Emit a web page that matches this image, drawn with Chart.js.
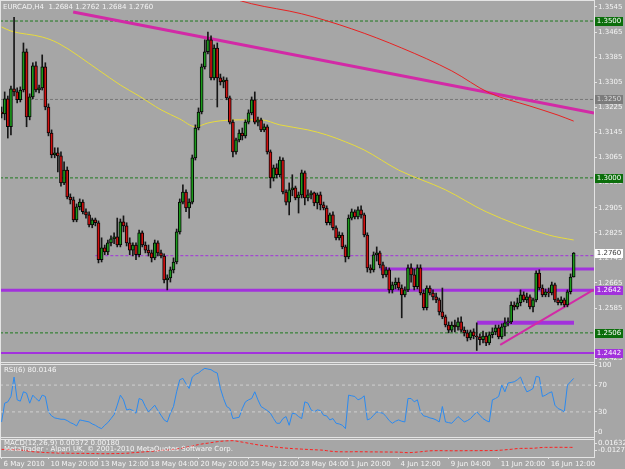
<!DOCTYPE html>
<html><head><meta charset="utf-8">
<style>html,body{margin:0;padding:0;background:#a6a6a6;overflow:hidden}canvas{display:block}</style>
<script src="https://cdn.jsdelivr.net/npm/chart.js@4.4.1/dist/chart.umd.min.js"></script>
</head><body>
<canvas id="c" width="625" height="469"></canvas>
<script>
// ---------------- DATA ----------------
const symbol = 'EURCAD,H4';
const openP = [1.3210,1.3204,1.3252,1.3163,1.3284,1.3274,1.3249,1.3280,1.3402,1.3194,1.3258,1.3357,1.3280,1.3287,1.3354,1.3226,1.3143,1.3073,1.3080,1.3070,
1.2984,1.3025,1.2939,1.2930,1.2866,1.2908,1.2923,1.2892,1.2882,1.2850,1.2866,1.2857,1.2739,1.2777,1.2764,1.2793,1.2806,1.2812,1.2786,1.2860,
1.2847,1.2793,1.2770,1.2786,1.2755,1.2825,1.2786,1.2770,1.2761,1.2745,1.2793,1.2761,1.2751,1.2675,1.2681,1.2707,1.2732,1.2828,1.2923,1.2955,
1.2904,1.2923,1.3064,1.3159,1.3210,1.3354,1.3402,1.3440,1.3319,1.3414,1.3319,1.3306,1.3312,1.3255,1.3178,1.3083,1.3121,1.3143,1.3134,1.3178,
1.3207,1.3249,1.3178,1.3185,1.3153,1.3163,1.3083,1.3000,1.3032,1.3010,1.3057,1.2955,1.2923,1.2962,1.2968,1.2936,1.2946,1.3016,1.2936,1.2946,
1.2952,1.2920,1.2946,1.2914,1.2904,1.2857,1.2882,1.2841,1.2809,1.2818,1.2780,1.2748,1.2872,1.2892,1.2876,1.2898,1.2882,1.2818,1.2713,1.2707,
1.2755,1.2761,1.2723,1.2691,1.2707,1.2643,1.2659,1.2668,1.2649,1.2627,1.2643,1.2713,1.2691,1.2653,1.2713,1.2633,1.2586,1.2649,1.2633,1.2621,
1.2611,1.2573,1.2557,1.2531,1.2515,1.2531,1.2525,1.2541,1.2515,1.2506,1.2490,1.2509,1.2496,1.2493,1.2484,1.2496,1.2474,1.2500,1.2509,1.2522,
1.2493,1.2525,1.2538,1.2541,1.2595,1.2589,1.2602,1.2627,1.2611,1.2621,1.2589,1.2611,1.2697,1.2649,1.2627,1.2637,1.2633,1.2659,1.2611,1.2602,
1.2611,1.2595,1.2637,1.2684];
const highP = [1.3226,1.3274,1.3261,1.3293,1.3512,1.3287,1.3290,1.3430,1.3411,1.3268,1.3367,1.3370,1.3296,1.3392,1.3367,1.3236,1.3153,1.3096,1.3096,1.3083,
1.3051,1.3035,1.2949,1.2939,1.2917,1.2933,1.2930,1.2901,1.2892,1.2872,1.2872,1.2863,1.2809,1.2786,1.2802,1.2815,1.2825,1.2872,1.2869,1.2879,
1.2857,1.2809,1.2793,1.2793,1.2834,1.2831,1.2796,1.2786,1.2770,1.2802,1.2799,1.2770,1.2758,1.2691,1.2716,1.2745,1.2837,1.2933,1.2978,1.2962,
1.2933,1.3073,1.3169,1.3223,1.3363,1.3440,1.3465,1.3453,1.3424,1.3430,1.3331,1.3322,1.3319,1.3261,1.3185,1.3127,1.3153,1.3159,1.3185,1.3217,
1.3258,1.3274,1.3194,1.3191,1.3172,1.3169,1.3089,1.3041,1.3045,1.3067,1.3064,1.2962,1.2984,1.3010,1.2974,1.2955,1.3025,1.3022,1.2962,1.2959,
1.2955,1.2952,1.2955,1.2923,1.2911,1.2888,1.2892,1.2847,1.2828,1.2825,1.2786,1.2882,1.2901,1.2898,1.2908,1.2911,1.2888,1.2825,1.2723,1.2764,
1.2780,1.2767,1.2732,1.2716,1.2713,1.2668,1.2681,1.2681,1.2659,1.2653,1.2723,1.2726,1.2710,1.2723,1.2723,1.2643,1.2656,1.2656,1.2643,1.2633,
1.2617,1.2649,1.2563,1.2541,1.2541,1.2547,1.2554,1.2557,1.2525,1.2515,1.2515,1.2519,1.2538,1.2503,1.2512,1.2506,1.2509,1.2522,1.2531,1.2531,
1.2535,1.2554,1.2554,1.2605,1.2605,1.2617,1.2643,1.2637,1.2633,1.2627,1.2617,1.2704,1.2707,1.2659,1.2646,1.2649,1.2668,1.2665,1.2617,1.2621,
1.2617,1.2643,1.2694,1.2762];
const lowP = [1.3191,1.3185,1.3127,1.3137,1.3261,1.3239,1.3242,1.3274,1.3163,1.3185,1.3252,1.3274,1.3271,1.3280,1.3217,1.3134,1.3064,1.3064,1.3019,1.2974,
1.2978,1.2933,1.2917,1.2860,1.2860,1.2898,1.2885,1.2872,1.2844,1.2841,1.2847,1.2729,1.2732,1.2755,1.2755,1.2783,1.2790,1.2780,1.2780,1.2828,
1.2783,1.2755,1.2751,1.2739,1.2748,1.2780,1.2761,1.2751,1.2732,1.2739,1.2751,1.2745,1.2665,1.2643,1.2668,1.2697,1.2726,1.2821,1.2917,1.2892,
1.2872,1.2917,1.3057,1.3153,1.3204,1.3347,1.3395,1.3312,1.3312,1.3226,1.3296,1.3287,1.3249,1.3172,1.3067,1.3076,1.3115,1.3121,1.3127,1.3172,
1.3201,1.3172,1.3166,1.3147,1.3147,1.3076,1.2968,1.2990,1.3000,1.3003,1.2949,1.2914,1.2882,1.2943,1.2930,1.2888,1.2936,1.2914,1.2927,1.2933,
1.2911,1.2901,1.2898,1.2898,1.2850,1.2850,1.2834,1.2802,1.2802,1.2774,1.2732,1.2742,1.2866,1.2869,1.2869,1.2872,1.2812,1.2700,1.2697,1.2700,
1.2735,1.2713,1.2681,1.2684,1.2633,1.2633,1.2646,1.2643,1.2554,1.2621,1.2637,1.2668,1.2643,1.2646,1.2627,1.2579,1.2579,1.2627,1.2611,1.2602,
1.2563,1.2551,1.2525,1.2506,1.2509,1.2509,1.2515,1.2509,1.2496,1.2480,1.2484,1.2487,1.2450,1.2468,1.2474,1.2465,1.2468,1.2490,1.2500,1.2487,
1.2487,1.2496,1.2528,1.2535,1.2579,1.2582,1.2592,1.2605,1.2602,1.2582,1.2573,1.2605,1.2643,1.2621,1.2621,1.2621,1.2627,1.2605,1.2595,1.2595,
1.2589,1.2589,1.2630,1.2684];
const closeP = [1.3204,1.3252,1.3163,1.3284,1.3274,1.3249,1.3280,1.3402,1.3194,1.3258,1.3357,1.3280,1.3287,1.3354,1.3226,1.3143,1.3073,1.3080,1.3070,1.2984,
1.3025,1.2939,1.2930,1.2866,1.2908,1.2923,1.2892,1.2882,1.2850,1.2866,1.2857,1.2739,1.2777,1.2764,1.2793,1.2806,1.2812,1.2786,1.2860,1.2847,
1.2793,1.2770,1.2786,1.2755,1.2825,1.2786,1.2770,1.2761,1.2745,1.2793,1.2761,1.2751,1.2675,1.2681,1.2707,1.2732,1.2828,1.2923,1.2955,1.2904,
1.2923,1.3064,1.3159,1.3210,1.3354,1.3402,1.3440,1.3319,1.3414,1.3319,1.3306,1.3312,1.3255,1.3178,1.3083,1.3121,1.3143,1.3134,1.3178,1.3207,
1.3249,1.3178,1.3185,1.3153,1.3163,1.3083,1.3000,1.3032,1.3010,1.3057,1.2955,1.2923,1.2962,1.2968,1.2936,1.2946,1.3016,1.2936,1.2946,1.2952,
1.2920,1.2946,1.2914,1.2904,1.2857,1.2882,1.2841,1.2809,1.2818,1.2780,1.2748,1.2872,1.2892,1.2876,1.2898,1.2882,1.2818,1.2713,1.2707,1.2755,
1.2761,1.2723,1.2691,1.2707,1.2643,1.2659,1.2668,1.2649,1.2627,1.2643,1.2713,1.2691,1.2653,1.2713,1.2633,1.2586,1.2649,1.2633,1.2621,1.2611,
1.2573,1.2557,1.2531,1.2515,1.2531,1.2525,1.2541,1.2515,1.2506,1.2490,1.2509,1.2496,1.2493,1.2484,1.2496,1.2474,1.2500,1.2509,1.2522,1.2493,
1.2525,1.2538,1.2541,1.2595,1.2589,1.2602,1.2627,1.2611,1.2621,1.2589,1.2611,1.2697,1.2649,1.2627,1.2637,1.2633,1.2659,1.2611,1.2602,1.2611,
1.2595,1.2637,1.2684,1.2760];

// moving averages (bar index, price)
const maYellowBars = [0,3,13,18,31,38,44,51,57,62,66,70,76,83,89,98,104,110,116,127,142,155,175,183];
const maYellowVals = [1.3481,1.3468,1.3449,1.3430,1.3344,1.3296,1.3261,1.3217,1.3188,1.3163,1.3175,1.3182,1.3185,1.3185,1.3169,1.3153,1.3137,1.3115,1.3089,1.3025,1.2962,1.2892,1.2818,1.2802];
const maRedBars = [67,80,96,112,128,144,156,169,178,183];
const maRedVals = [1.3593,1.3555,1.3523,1.3475,1.3414,1.3341,1.3271,1.3229,1.3200,1.3181];

// trend lines (bar index, price)
const trendDownBars = [22.9,189.5];
const trendDownVals = [1.3529,1.3207];
const trendUpBars = [159.5,189.3];
const trendUpVals = [1.2468,1.2643];

// horizontal levels
const greenLevels = [1.3500,1.3000,1.2506];
const grayLevels = [1.3250];
const purpleLevels = [1.2710,1.2642,1.2538,1.2442];
const purpleFrom = [121,-0.5,152.1,-0.5];
const purpleTo = [189.5,189.5,183.1,189.5];
const purpleThinLevel = 1.2752;
const purpleThinFrom = 30;
const boxPrices = [1.3500,1.3250,1.3000,1.2760,1.2642,1.2506,1.2442];

// RSI(6)
const rsi6 = [15,43,45,53,82,48,46,60,58,43,55,50,46,55,53,30,24,21,20,19,
19,17,14,12,9,18,17,16,15,12,10,7,5,10,14,20,26,40,55,48,
33,34,32,28,50,48,38,30,35,40,32,25,18,15,28,38,60,78,80,72,
65,82,86,88,92,95,94,93,90,88,65,50,38,35,20,21,22,35,45,48,
50,60,48,38,35,32,28,20,13,13,20,23,10,28,27,23,20,45,43,33,
30,33,32,25,24,18,20,13,12,10,5,55,54,53,48,50,54,18,20,25,
30,29,28,23,17,13,16,18,16,15,50,50,45,48,30,24,23,21,20,18,
15,38,15,14,13,18,23,19,15,17,20,25,30,25,20,17,15,48,50,53,
70,60,73,74,75,78,82,70,60,62,65,83,82,53,55,58,60,40,35,33,
30,70,75,80.0146];
const rsiLevels = [70,30];
const rsiTicks = [100,70,30,0];

// MACD(12,26,9) signal line
const macdSignal = [-0.0006,-0.0008,-0.0010,-0.0012,-0.0014,-0.0016,-0.0018,-0.0025,-0.0032,-0.0040,-0.0049,-0.0053,-0.0057,-0.0061,-0.0064,-0.0067,-0.0069,-0.0071,-0.0073,-0.0074,
-0.0075,-0.0076,-0.0077,-0.0078,-0.0079,-0.0079,-0.0079,-0.0080,-0.0081,-0.0082,-0.0083,-0.0084,-0.0085,-0.0085,-0.0085,-0.0084,-0.0083,-0.0082,-0.0081,-0.0079,
-0.0077,-0.0073,-0.0067,-0.0063,-0.0059,-0.0055,-0.0050,-0.0046,-0.0041,-0.0036,-0.0031,-0.0025,-0.0020,-0.0018,-0.0012,-0.0006,0.0000,0.0008,0.0018,0.0030,
0.0042,0.0055,0.0068,0.0080,0.0090,0.0100,0.0106,0.0115,0.0125,0.0133,0.0140,0.0145,0.0148,0.0150,0.0151,0.0145,0.0135,0.0125,0.0115,0.0105,
0.0095,0.0085,0.0075,0.0067,0.0060,0.0054,0.0047,0.0040,0.0033,0.0027,0.0021,0.0016,0.0012,0.0008,0.0004,0.0001,-0.0002,-0.0005,-0.0008,-0.0011,
-0.0014,-0.0016,-0.0018,-0.0022,-0.0030,-0.0038,-0.0044,-0.0049,-0.0050,-0.0050,-0.0051,-0.0051,-0.0050,-0.0049,-0.0049,-0.0050,-0.0050,-0.0051,-0.0052,-0.0052,
-0.0053,-0.0053,-0.0054,-0.0054,-0.0055,-0.0055,-0.0056,-0.0057,-0.0060,-0.0064,-0.0067,-0.0064,-0.0060,-0.0056,-0.0050,-0.0044,-0.0038,-0.0033,-0.0031,-0.0030,
-0.0030,-0.0030,-0.0031,-0.0031,-0.0032,-0.0032,-0.0032,-0.0031,-0.0031,-0.0030,-0.0030,-0.0030,-0.0030,-0.0029,-0.0029,-0.0029,-0.0028,-0.0028,-0.0027,-0.0024,
-0.0020,-0.0015,-0.0010,-0.0005,0.0002,0.0008,0.0011,0.0012,0.0012,0.0013,0.0013,0.0018,0.0024,0.0028,0.0030,0.0030,0.0030,0.0031,0.0031,0.0031,
0.0030,0.0030,0.0030,0.0030];
const macdTickLabels = ['0.01632','-0.01273'];
const macdTickVals = [0.0109,-0.0018];

// axes
const priceTicks = [1.3545,1.3465,1.3385,1.3305,1.3225,1.3145,1.3065,1.2985,1.2905,1.2825,1.2745,1.2665,1.2585,1.2505,1.2425];
const timeTickBars = [0,15,31,47,63,79,95,111,127,143,159,175];
const timeTickLabels = ['6 May 2010','10 May 20:00','13 May 12:00','18 May 04:00','20 May 20:00','25 May 12:00','28 May 04:00','1 Jun 20:00','4 Jun 12:00','9 Jun 04:00','11 Jun 20:00','16 Jun 12:00'];
const rsiTitle = 'RSI(6) ';
const macdTitle = 'MACD(12,26,9) 0.00372 0.00180';
const copyright = 'MetaTrader - Alpari UK, \u00a9 2001-2010 MetaQuotes Software Corp.';

// ---------------- STYLE ----------------
const BG = '#a6a6a6', AX = '#e4e4e4', TXT = '#f4f4f4';
const FONT = {family: 'DejaVu Sans', size: 7};
const UP = '#1c9a1c', DN = '#d01010';
const PURPLE = '#a232dc', MAGENTA = '#d22aa6';
const boxStyle = {
  1.3500: ['#0b6e0b', '#ffffff'], 1.3250: ['#7c7c7c', '#d8d8d8'], 1.3000: ['#0b6e0b', '#ffffff'],
  1.2760: ['#ffffff', '#404040'], 1.2642: ['#a232dc', '#ffffff'], 1.2506: ['#0b6e0b', '#ffffff'], 1.2442: ['#a232dc', '#ffffff']
};

const N = closeP.length;
const idx = Array.from({length: N}, (_, i) => i);
const hseg = (from, to, v) => [{x: from, y: v}, {x: to, y: v}];
const lineDs = (data, color, width, axis, extra) => Object.assign({
  type: 'line', data, borderColor: color, borderWidth: width, pointRadius: 0, fill: false,
  yAxisID: axis || 'y', tension: 0
}, extra || {});

const datasets = [];
datasets.push({
  type: 'bar', grouped: false, yAxisID: 'y',
  data: idx.map(i => ({x: i, y: [Math.min(openP[i], closeP[i]), Math.max(openP[i], closeP[i])]})),
  backgroundColor: idx.map(i => closeP[i] >= openP[i] ? UP : DN),
  borderColor: '#050505', borderWidth: 1, borderSkipped: false, barThickness: 3, minBarLength: 1
});
datasets.push({
  type: 'bar', grouped: false, yAxisID: 'y',
  data: idx.map(i => ({x: i, y: [lowP[i], highP[i]]})),
  backgroundColor: '#161616', borderWidth: 0, barThickness: 1
});
datasets.push(lineDs(maYellowBars.map((b, k) => ({x: b, y: maYellowVals[k]})), '#e8dc3c', 1, 'y', {cubicInterpolationMode: 'monotone'}));
datasets.push(lineDs(maRedBars.map((b, k) => ({x: b, y: maRedVals[k]})), '#e82222', 1, 'y', {cubicInterpolationMode: 'monotone'}));
datasets.push(lineDs(trendDownBars.map((b, k) => ({x: b, y: trendDownVals[k]})), MAGENTA, 3));
datasets.push(lineDs(trendUpBars.map((b, k) => ({x: b, y: trendUpVals[k]})), MAGENTA, 2));
greenLevels.forEach(v => datasets.push(lineDs(hseg(-0.5, 189.5, v), '#1f7a1f', 1, 'y', {borderDash: [3, 2]})));
grayLevels.forEach(v => datasets.push(lineDs(hseg(-0.5, 189.5, v), '#787878', 1, 'y', {borderDash: [3, 2]})));
const purpleW = [3, 3, 4, 2];
purpleLevels.forEach((v, k) => datasets.push(lineDs(hseg(purpleFrom[k], purpleTo[k], v), PURPLE, purpleW[k])));
datasets.push(lineDs(hseg(purpleThinFrom, 189.5, purpleThinLevel), PURPLE, 1, 'y', {borderDash: [3, 2]}));
rsiLevels.forEach(v => datasets.push(lineDs(hseg(-0.5, 189.5, v), '#cfcfcf', 1, 'yRsi', {borderDash: [3, 3]})));
datasets.push(lineDs(idx.map(i => ({x: i, y: rsi6[i]})), '#2b8af0', 1, 'yRsi'));
datasets.push(lineDs(idx.map(i => ({x: i, y: macdSignal[i]})), '#ff1e1e', 1, 'yMacd', {borderDash: [3, 2]}));

function yAxis(stackWeight, min, max, tickVals, cb) {
  return {
    type: 'linear', position: 'right', stack: 'panes', stackWeight, min, max, bounds: 'data', offset: false,
    grid: {drawOnChartArea: false, drawTicks: true, tickLength: 3, color: AX, lineWidth: 1, offset: false},
    border: {display: true, color: AX, width: 1},
    ticks: {color: TXT, font: FONT, padding: 1, autoSkip: false, callback: cb},
    afterBuildTicks: s => { s.ticks = tickVals.map(v => ({value: v})); },
    afterFit: s => { s.width = 31; s.paddingTop = 0; s.paddingBottom = 0; }
  };
}

const overlay = {
  id: 'overlay',
  beforeDraw(chart) {
    const c = chart.ctx; c.save(); c.fillStyle = BG; c.fillRect(0, 0, chart.width, chart.height); c.restore();
  },
  afterDraw(chart) {
    const c = chart.ctx, ca = chart.chartArea, sy = chart.scales.y, sr = chart.scales.yRsi, sm = chart.scales.yMacd;
    c.save();
    c.strokeStyle = AX; c.lineWidth = 1;
    c.beginPath();
    c.moveTo(0, 0.5); c.lineTo(ca.right, 0.5);
    c.moveTo(0.5, 0); c.lineTo(0.5, ca.bottom);
    c.moveTo(0, Math.round(sy.bottom) - 0.5); c.lineTo(ca.right, Math.round(sy.bottom) - 0.5);
    c.moveTo(0, Math.round(sr.top) + 1.5); c.lineTo(ca.right, Math.round(sr.top) + 1.5);
    c.moveTo(0, Math.round(sr.bottom) - 0.5); c.lineTo(ca.right, Math.round(sr.bottom) - 0.5);
    c.moveTo(0, Math.round(sm.top) + 1.5); c.lineTo(ca.right, Math.round(sm.top) + 1.5);
    c.stroke();
    c.font = '7px "DejaVu Sans"'; c.textBaseline = 'middle'; c.textAlign = 'center';
    boxPrices.forEach(p => {
      const y = Math.round(sy.getPixelForValue(p));
      const st = boxStyle[p];
      c.fillStyle = st[0]; c.fillRect(ca.right + 1, y - 4, 28, 9);
      c.fillStyle = st[1]; c.fillText(p.toFixed(4), ca.right + 15, y + 0.5);
    });
    c.textAlign = 'left'; c.textBaseline = 'top'; c.fillStyle = TXT;
    const L = N - 1;
    c.fillText(symbol + '  ' + [openP[L], highP[L], lowP[L], closeP[L]].map(v => v.toFixed(4)).join(' '), 3, 4);
    c.fillText(rsiTitle + rsi6[L].toFixed(4), 4, Math.round(sr.top) + 4);
    c.fillText(macdTitle, 4, Math.round(sm.top) + 2);
    c.fillText(copyright, 4, Math.round(sm.top) + 8);
    c.restore();
  }
};

new Chart(document.getElementById('c'), {
  data: {datasets},
  options: {
    responsive: false, animation: false, events: [],
    layout: {padding: 0, autoPadding: false},
    plugins: {legend: {display: false}, tooltip: {enabled: false}},
    scales: {
      x: {
        type: 'linear', position: 'bottom', min: -0.5, max: 189.5, bounds: 'data', offset: false,
        grid: {drawOnChartArea: false, drawTicks: true, tickLength: 2, color: AX, offset: false},
        border: {display: true, color: AX},
        ticks: {color: TXT, font: FONT, autoSkip: false, maxRotation: 0, minRotation: 0, align: 'start', labelOffset: 2, padding: 1,
          callback: (v, i) => timeTickLabels[i]},
        afterBuildTicks: s => { s.ticks = timeTickBars.map(v => ({value: v})); },
        afterFit: s => { s.height = 12; s.paddingLeft = 0; s.paddingRight = 0; }
      },
      y: yAxis(363, 1.2410, 1.3567, priceTicks, v => v.toFixed(4)),
      yRsi: yAxis(75, -9, 103, rsiTicks, v => String(v)),
      yMacd: yAxis(19, -0.0145, 0.0200, macdTickVals, (v, i) => macdTickLabels[i])
    }
  },
  plugins: [overlay]
});
</script>
</body></html>
